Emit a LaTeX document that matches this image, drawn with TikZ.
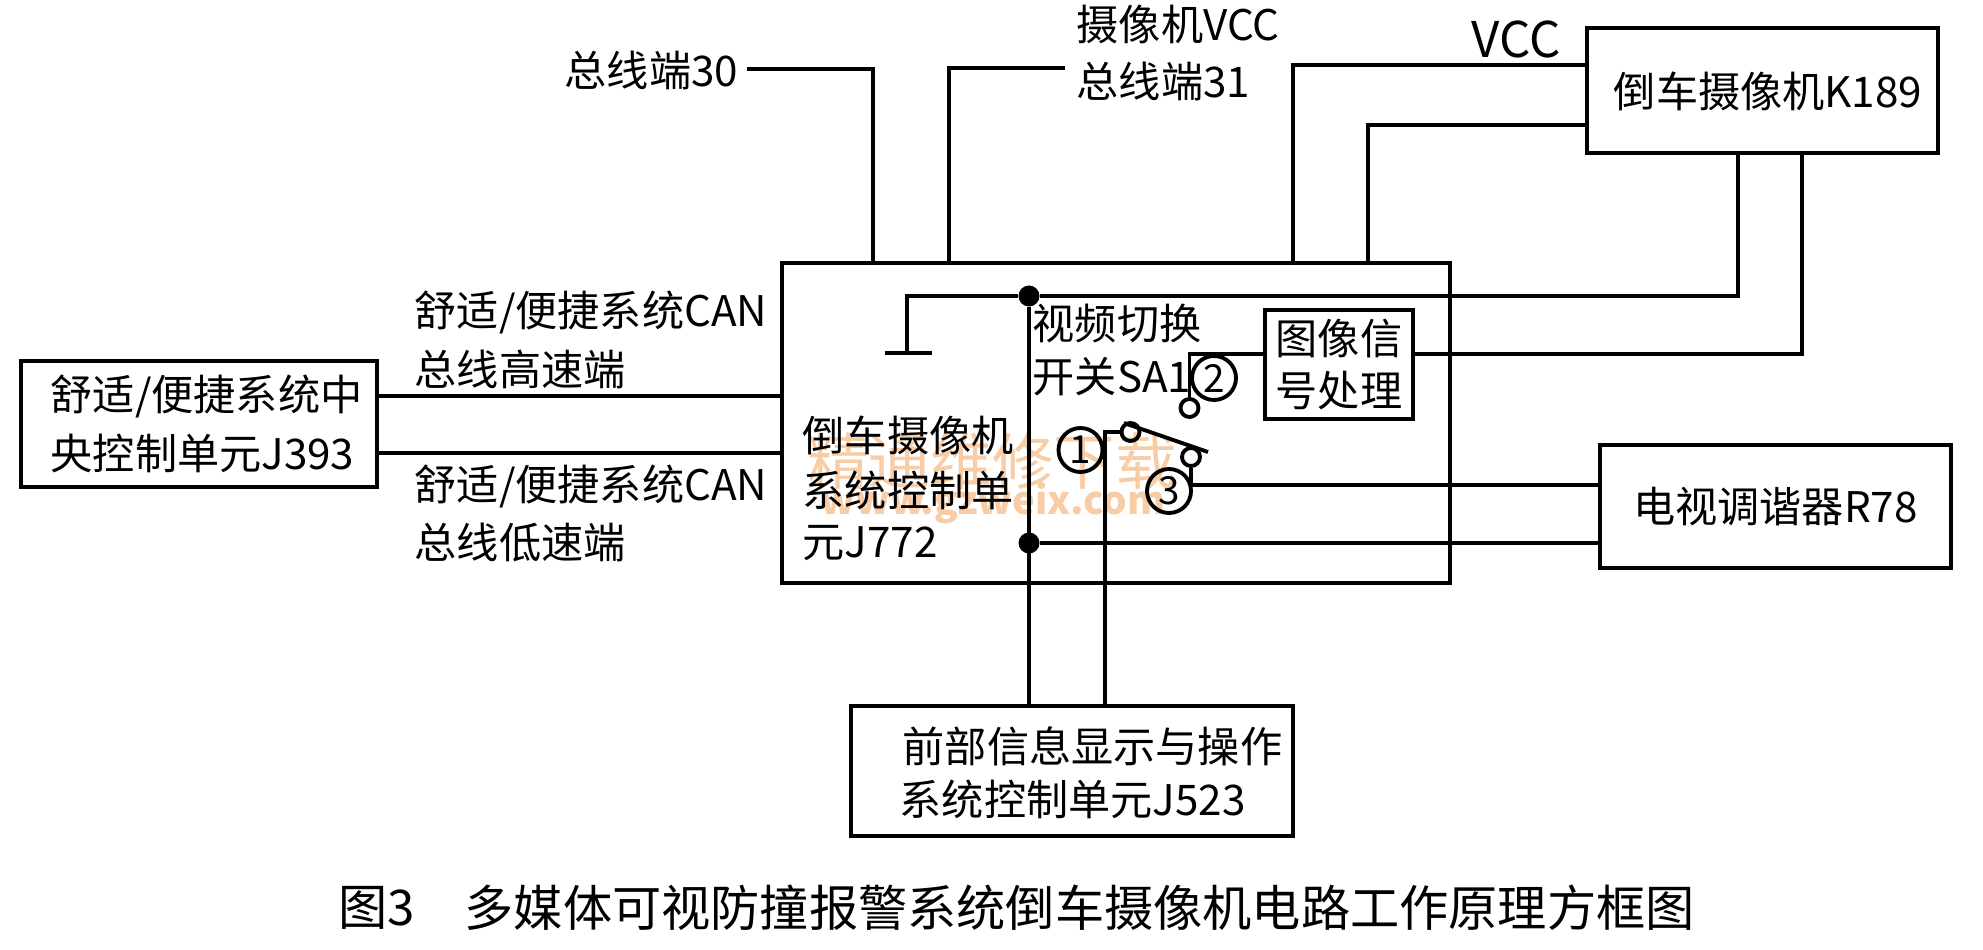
\documentclass[tikz,border=0pt]{standalone}
\usepackage{fontspec}
\setmainfont{Noto Sans CJK SC}
\usetikzlibrary{arrows.meta,positioning,calc}
\definecolor{wmark}{RGB}{248,205,165}
\tikzset{
  blk/.style={draw,rectangle,line width=1.4pt,inner sep=0pt},
  wire/.style={line width=1.1pt},
  lbl/.style={font=\fontsize{12}{14}\selectfont,inner sep=0pt,anchor=west},
  ctr/.style={font=\fontsize{12}{15}\selectfont,inner sep=0pt,align=center},
  capt/.style={font=\fontsize{14}{16}\selectfont,inner sep=0pt,anchor=west},
  numnode/.style={circle,draw,line width=1.1pt,minimum size=0.44cm,inner sep=0pt,font=\fontsize{11}{12}\selectfont},
  contact/.style={circle,draw,line width=1.1pt,minimum size=0.18cm,inner sep=0pt},
  jdot/.style={circle,fill,minimum size=0.21cm,inner sep=0pt},
  wmk/.style={text=wmark,inner sep=0pt}
}
\begin{document}
\begin{tikzpicture}
  \useasboundingbox (0,0) rectangle (19.83,9.49);
  % Watermark
  \node[wmk, font=\fontsize{17.5}{20}\selectfont] (wm1) at (9.92,4.88) {精通维修下载};
  \node[wmk, font=\fontsize{11}{13}\selectfont\bfseries] (wm2) at (9.93,4.46) {www.gzweix.com};

  % Boxes
  \node[blk, minimum width=3.56cm, minimum height=1.26cm] (J393) at (1.99,5.25) {};
  \node[blk, minimum width=3.51cm, minimum height=1.25cm] (K189) at (17.625,8.585) {};
  \node[blk, minimum width=6.68cm, minimum height=3.20cm] (J772) at (11.16,5.26) {};
  \node[blk, minimum width=1.48cm, minimum height=1.09cm, ctr] (imgproc) at (13.39,5.845) {图像信\\号处理};
  \node[blk, minimum width=3.51cm, minimum height=1.23cm, ctr] (R78) at (17.755,4.425) {电视调谐器R78};
  \node[blk, minimum width=4.42cm, minimum height=1.30cm] (J523) at (10.72,1.78) {};

  % Box texts
  \node[lbl] (t393a) at (0.50,5.53) {舒适/便捷系统中};
  \node[lbl] (t393b) at (0.50,4.96) {央控制单元J393};
  \node[ctr] (t189) at (17.68,8.58) {倒车摄像机K189};
  \node[lbl] (t772a) at (8.02,5.14) {倒车摄像机};
  \node[lbl] (t772b) at (8.02,4.59) {系统控制单};
  \node[lbl] (t772c) at (8.02,4.06) {元J772};
  \node[lbl] (t523a) at (9.02,2.03) {前部信息显示与操作};
  \node[lbl] (t523b) at (8.99,1.50) {系统控制单元J523};

  % Wire labels
  \node[lbl] (t30) at (5.64,8.79) {总线端30};
  \node[lbl] (tcam) at (10.76,9.24) {摄像机VCC};
  \node[lbl] (t31) at (10.76,8.68) {总线端31};
  \node[lbl, font=\fontsize{14}{16}\selectfont] (tvcc) at (14.71,9.10) {VCC};
  \node[lbl] (tcanh) at (4.14,6.37) {舒适/便捷系统CAN};
  \node[lbl] (thi) at (4.14,5.80) {总线高速端};
  \node[lbl] (tcanl) at (4.14,4.63) {舒适/便捷系统CAN};
  \node[lbl] (tlo) at (4.14,4.06) {总线低速端};
  \node[lbl] (tsw1) at (10.32,6.26) {视频切换};
  \node[lbl] (tsw2) at (10.32,5.72) {开关SA1};

  % Caption
  \node[capt] (fig) at (3.38,0.41) {图3};
  \node[capt] (figt) at (4.64,0.41) {多媒体可视防撞报警系统倒车摄像机电路工作原理方框图};

  % Free wire ends
  \coordinate (e30) at (7.47,8.80);
  \coordinate (e31) at (10.65,8.81);
  \coordinate (b30) at (8.73,6.86);
  \coordinate (b31) at (9.49,6.86);
  \coordinate (bvcc) at (12.93,6.86);
  \coordinate (bsig) at (13.68,6.86);
  \coordinate (kvcc) at (15.87,8.84);
  \coordinate (ksig) at (15.87,8.24);
  \coordinate (ka) at (17.38,7.96);
  \coordinate (kb) at (18.02,7.96);
  \coordinate (h393) at (3.77,5.53);
  \coordinate (l393) at (3.77,4.96);
  \coordinate (h772) at (7.82,5.53);
  \coordinate (l772) at (7.82,4.96);
  \coordinate (r78a) at (16.00,4.64);
  \coordinate (r78b) at (16.00,4.06);
  \coordinate (j523a) at (10.29,2.43);
  \coordinate (j523b) at (11.05,2.43);
  \coordinate (imga) at (12.65,5.95);
  \coordinate (imgb) at (14.13,5.95);
  \coordinate (gnd) at (9.07,5.96);
  \coordinate (gndl) at (8.85,5.96);
  \coordinate (gndr) at (9.32,5.96);
  \coordinate (blada) at (11.24,5.26);
  \coordinate (bladb) at (12.08,4.97);

  % Junctions, contacts and terminal numbers
  \node[jdot] (jtop) at (10.29,6.53) {};
  \node[jdot] (jbot) at (10.29,4.06) {};
  \node[contact] (sw2) at (11.895,5.41) {};
  \node[contact] (sw1) at (11.305,5.17) {};
  \node[contact] (sw3) at (11.91,4.92) {};
  \node[numnode] (n1) at (10.805,4.99) {1};
  \node[numnode] (n2) at (12.14,5.71) {2};
  \node[numnode] (n3) at (11.69,4.58) {3};

  % Supply wires
  \draw[wire] (e30) -| (b30);
  \draw[wire] (e31) -| (b31);
  \draw[wire] (kvcc) -| (bvcc);
  \draw[wire] (ksig) -| (bsig);

  % CAN wires
  \draw[wire] (h393) -- (h772);
  \draw[wire] (l393) -- (l772);

  % Inner wires
  \draw[wire] (jtop) -- (j523a);
  \draw[wire] (gnd) |- (jtop);
  \draw[wire] (jtop) -| (ka);
  \draw[wire] (gndl) -- (gndr);
  \draw[wire] (imgb) -| (kb);
  \draw[wire] (imga) -| (sw2);
  \draw[wire] (jbot) -- (r78b);
  \draw[wire] (sw3) |- (r78a);
  \draw[wire] (sw1) -| (j523b);
  \draw[wire] (blada) -- (bladb);
\end{tikzpicture}
\end{document}
